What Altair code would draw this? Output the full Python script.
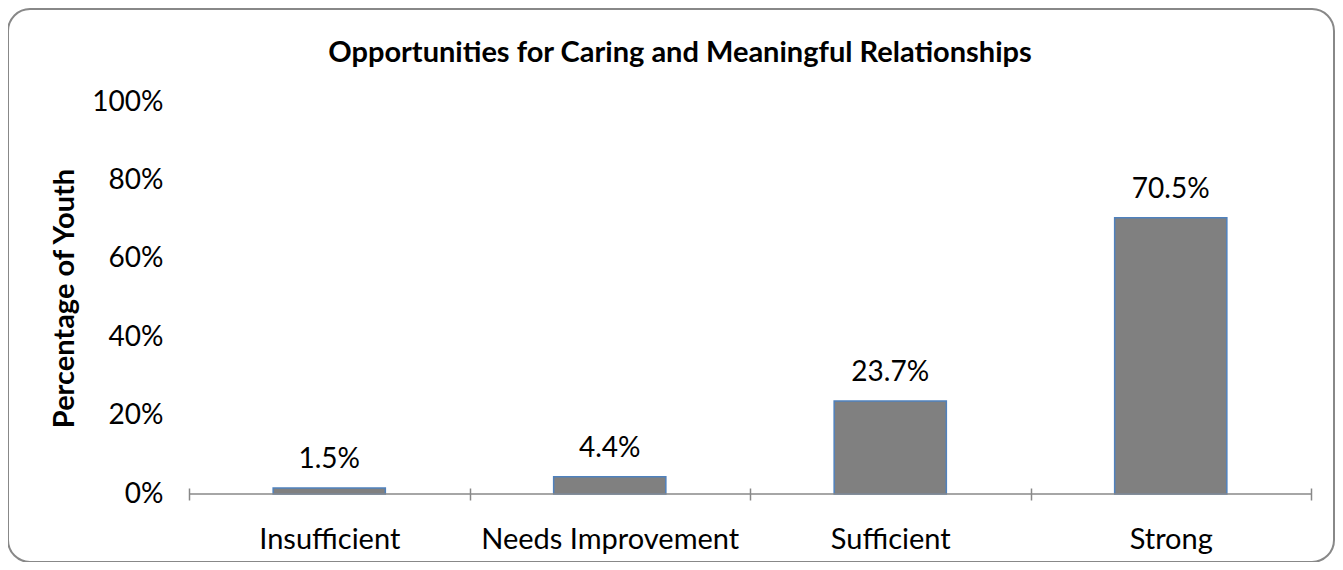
import altair as alt
import pandas as pd

categories = ["Insufficient", "Needs Improvement", "Sufficient", "Strong"]
values = [1.5, 4.4, 23.7, 70.5]
value_labels = ["1.5%", "4.4%", "23.7%", "70.5%"]
y_ticks = [0, 20, 40, 60, 80, 100]
chart_title = "Opportunities for Caring and Meaningful Relationships"

FONT = "Lato"
W, H = 1122, 392

df = pd.DataFrame({"cat": categories, "val": values, "lab": value_labels})

x_enc = alt.X("cat:N", sort=categories,
              scale=alt.Scale(paddingInner=0, paddingOuter=0),
              axis=alt.Axis(title=None, labelAngle=0, labelFontSize=29, labelFont=FONT,
                            labelColor="#000", tickBand="extent", tickSize=12, offset=-6,
                            tickColor="#888", tickWidth=1.5, domain=False, labelPadding=25,
                            labelLimit=0))
y_enc = alt.Y("val:Q", scale=alt.Scale(domain=[0, 100]),
              axis=alt.Axis(title="Percentage of Youth", values=y_ticks, grid=False, domain=False,
                            ticks=False, labelExpr="datum.value + '%'", labelFontSize=28,
                            labelFont=FONT, labelColor="#000", labelPadding=26,
                            titleFont=FONT, titleFontSize=29, titleFontWeight="bold",
                            titleColor="#000", titlePadding=12))

one = pd.DataFrame({"t": [chart_title]})

border = alt.Chart(one).mark_rect(
    fill="transparent", stroke="#888", strokeWidth=2, cornerRadius=22
).encode(x=alt.value(-181), x2=alt.value(1145), y=alt.value(-93), y2=alt.value(460))

title = alt.Chart(one).mark_text(font=FONT, fontSize=29, fontWeight="bold", color="#000",
                                 baseline="middle", align="center").encode(
    x=alt.value(491), y=alt.value(-49), text="t:N")

bars = alt.Chart(df).mark_bar(width=alt.RelativeBandSize(0.4), color="#808080",
                              stroke="#4f81bd", strokeWidth=1.5).encode(x=x_enc, y=y_enc)

rule = alt.Chart(one).mark_rule(color="#888", strokeWidth=1.5).encode(
    y=alt.datum(0), x=alt.value(0), x2=alt.value(W))

text = alt.Chart(df).mark_text(dy=-20, baseline="alphabetic", fontSize=28, font=FONT,
                               color="#000").encode(x=alt.X("cat:N", sort=categories),
                                                    y=alt.Y("val:Q"), text="lab:N")

chart = alt.layer(border, title, bars, rule, text).properties(
    width=W, height=H,
    padding={"left": 181, "top": 94, "right": 24, "bottom": 68},
    autosize="none",
).configure_view(stroke=None)

chart.save("out.html", embed_options={"renderer": "svg", "actions": False})
